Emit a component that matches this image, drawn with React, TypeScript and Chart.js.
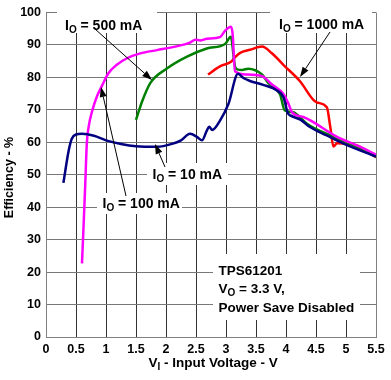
import { useEffect, useRef } from "react";
import { Chart, registerables } from "chart.js";

Chart.register(...registerables);

// I_O = 10 mA
const io10V = [0.29, 0.38, 0.43, 0.5, 0.6, 0.8, 1.0, 1.25, 1.5, 1.85, 2.1, 2.25, 2.4, 2.52, 2.6, 2.68, 2.72, 2.77, 2.9, 3.04, 3.2, 3.29, 3.4, 3.62, 3.85, 3.96, 4.03, 4.07, 4.24, 4.4, 4.68, 4.96, 5.5];
const io10Eff = [47.5, 57.6, 61.1, 62.4, 62.6, 62, 60.6, 59.5, 58.8, 58.6, 59.5, 60.6, 62.6, 61.6, 60.6, 63.6, 64.8, 63.8, 66.7, 71.8, 81.1, 79.8, 78.9, 77.7, 76.0, 73.8, 69.0, 68.3, 67.0, 64.7, 62.1, 59.6, 55.6];

// I_O = 100 mA
const io100V = [0.6, 0.63, 0.655, 0.68, 0.71, 0.77, 0.85, 0.93, 1.04, 1.18, 1.35, 1.57, 1.85, 2.13, 2.4, 2.49, 2.57, 2.68, 2.9, 2.99, 3.08, 3.11, 3.15, 3.34, 3.6, 3.76, 3.96, 4.05, 4.1, 4.29, 4.85, 5.24, 5.5];
const io100Eff = [22.7, 36, 47.5, 59.6, 64.7, 69.7, 74.2, 77.3, 81.3, 83.9, 85.9, 87.4, 88.4, 89.4, 90.7, 91.6, 91.4, 91.9, 92.4, 94.5, 95.6, 93.5, 81.9, 80.9, 80.4, 77.9, 74.8, 71.5, 69.2, 67.8, 61.7, 58.6, 56.2];

// I_O = 500 mA
const io500V = [1.5, 1.6, 1.74, 2.02, 2.35, 2.68, 2.99, 3.08, 3.15, 3.2, 3.27, 3.37, 3.6, 3.7, 3.9, 3.98, 4.12, 4.23, 4.35, 4.74, 5.18, 5.5];
const io500Eff = [66.9, 72.5, 78.3, 82.8, 86.4, 88.9, 90.4, 92.5, 83.4, 82.4, 82.3, 82.7, 80.9, 78.4, 74.8, 69.8, 69.3, 67.8, 65.7, 62.1, 58.6, 55.6];

// I_O = 1000 mA
const io1000V = [2.7, 2.9, 3.09, 3.16, 3.23, 3.4, 3.6, 3.76, 3.96, 4.23, 4.51, 4.68, 4.74, 4.79, 4.85, 4.95, 5.18, 5.5];
const io1000Eff = [80.9, 83.4, 84.9, 86.4, 87.5, 88.5, 89.5, 87.5, 83.8, 78.9, 72.3, 70.8, 64.5, 58.7, 59.7, 59.6, 59.0, 55.4];

const seriesNames = ["IO = 10 mA", "IO = 100 mA", "IO = 500 mA", "IO = 1000 mA"];
const seriesColors = ["#000080", "#ff00ff", "#008000", "#ff0000"];

const FF = '"Liberation Sans", Arial, Helvetica, sans-serif';

const pts = (xs: number[], ys: number[]) => xs.map((x, i) => ({ x, y: ys[i] }));

function drawSub(ctx: CanvasRenderingContext2D, x: number, y: number, main: string, sub: string, rest: string, size = 14, subSize = 10, off = 3) {
  ctx.font = `bold ${size}px ${FF}`;
  ctx.fillText(main, x, y);
  x += ctx.measureText(main).width;
  ctx.font = `bold ${subSize}px ${FF}`;
  ctx.fillText(sub, x, y + off);
  x += ctx.measureText(sub).width;
  ctx.font = `bold ${size}px ${FF}`;
  ctx.fillText(rest, x, y);
}

function arrow(ctx: CanvasRenderingContext2D, x1: number, y1: number, x2: number, y2: number) {
  const a = Math.atan2(y2 - y1, x2 - x1);
  const L = 10, W = 3.5;
  const bx = x2 - L * Math.cos(a), by = y2 - L * Math.sin(a);
  ctx.beginPath();
  ctx.moveTo(x1, y1);
  ctx.lineTo(bx, by);
  ctx.lineWidth = 1;
  ctx.strokeStyle = "#000";
  ctx.stroke();
  ctx.beginPath();
  ctx.moveTo(x2, y2);
  ctx.lineTo(bx + W * Math.sin(a), by - W * Math.cos(a));
  ctx.lineTo(bx - W * Math.sin(a), by + W * Math.cos(a));
  ctx.closePath();
  ctx.fillStyle = "#000";
  ctx.fill();
}

const annotPlugin = {
  id: "annot",
  beforeDatasetsDraw(chart: any) {
    const ctx = chart.ctx as CanvasRenderingContext2D;
    ctx.save();
    ctx.fillStyle = "#fff";
    ctx.fillRect(57, 8, 100, 25);
    ctx.fillRect(270, 8, 102, 25);
    ctx.fillRect(147, 163, 81, 22);
    ctx.fillRect(97, 193, 85, 21);
    ctx.fillRect(213, 254, 147, 66);
    ctx.fillStyle = "#000";
    ctx.textBaseline = "alphabetic";
    ctx.textAlign = "left";
    drawSub(ctx, 65, 29.5, "I", "O", " = 500 mA");
    drawSub(ctx, 279, 28.5, "I", "O", " = 1000 mA");
    drawSub(ctx, 152.5, 179, "I", "O", " = 10 mA");
    drawSub(ctx, 102.5, 207.5, "I", "O", " = 100 mA");
    ctx.font = `bold 13.5px ${FF}`;
    ctx.fillText("TPS61201", 218.5, 275);
    drawSub(ctx, 218.5, 293, "V", "O", " = 3.3 V,", 13.5, 10, 3);
    ctx.font = `bold 13.5px ${FF}`;
    ctx.fillText("Power Save Disabled", 218.5, 311.5);
    ctx.restore();
  },
  afterDatasetsDraw(chart: any) {
    const ctx = chart.ctx as CanvasRenderingContext2D;
    ctx.save();
    arrow(ctx, 95, 29, 152, 80);
    arrow(ctx, 330, 32, 300, 77);
    arrow(ctx, 165, 167, 155, 144);
    arrow(ctx, 126, 196, 101, 87);
    ctx.restore();
  },
  afterDraw(chart: any) {
    const ctx = chart.ctx as CanvasRenderingContext2D;
    ctx.save();
    ctx.fillStyle = "#000";
    ctx.textAlign = "left";
    ctx.textBaseline = "alphabetic";
    drawSub(ctx, 148.5, 367, "V", "I", " - Input Voltage - V", 13.5, 10, 3);
    ctx.translate(12.5, 177.5);
    ctx.rotate(-Math.PI / 2);
    ctx.textAlign = "center";
    ctx.font = `bold 12.5px ${FF}`;
    ctx.fillText("Efficiency - %", 0, 0);
    ctx.restore();
  },
};

export default function App() {
  const ref = useRef<HTMLCanvasElement>(null);
  useEffect(() => {
    document.body.style.margin = "0";
    const series = [
      pts(io10V, io10Eff),
      pts(io100V, io100Eff),
      pts(io500V, io500Eff),
      pts(io1000V, io1000Eff),
    ];
    const chart = new Chart(ref.current as HTMLCanvasElement, {
      type: "line",
      data: {
        datasets: series.map((d, i) => ({
          label: seriesNames[i],
          data: d,
          borderColor: seriesColors[i],
          backgroundColor: seriesColors[i],
          borderWidth: 2.5,
          pointRadius: 0,
          fill: false,
          cubicInterpolationMode: "monotone" as const,
        })),
      },
      options: {
        responsive: false,
        animation: false,
        events: [],
        layout: { padding: { top: 7, right: 15, left: 0, bottom: 0 } },
        plugins: { legend: { display: false }, tooltip: { enabled: false } },
        scales: {
          x: {
            type: "linear",
            min: 0,
            max: 5.5,
            afterFit: (s: any) => { s.height = 43; },
            ticks: {
              stepSize: 0.5,
              autoSkip: false,
              maxRotation: 0,
              padding: 5,
              color: "#000",
              font: { family: FF, size: 12.5, weight: "bold" },
              callback: (v: any) => String(Math.round(Number(v) * 10) / 10),
            },
            grid: {
              drawTicks: false,
              color: (c: any) => (c.tick && c.tick.value === 5.5 ? "#808080" : "#333"),
              lineWidth: 1,
            },
            border: { color: "#808080", width: 1 },
          },
          y: {
            min: 0,
            max: 100,
            afterFit: (s: any) => { s.width = 46; },
            ticks: {
              stepSize: 10,
              padding: 5,
              color: "#000",
              font: { family: FF, size: 12.5, weight: "bold" },
              callback: (v: any) => String(v),
            },
            grid: { drawTicks: false, color: "#777", lineWidth: 1 },
            border: { color: "#808080", width: 1 },
          },
        },
      },
      plugins: [annotPlugin],
    } as any);
    return () => chart.destroy();
  }, []);
  return (
    <div style={{ width: 391, height: 380, background: "#fff" }}>
      <canvas ref={ref} width={391} height={380} style={{ display: "block" }} />
    </div>
  );
}
